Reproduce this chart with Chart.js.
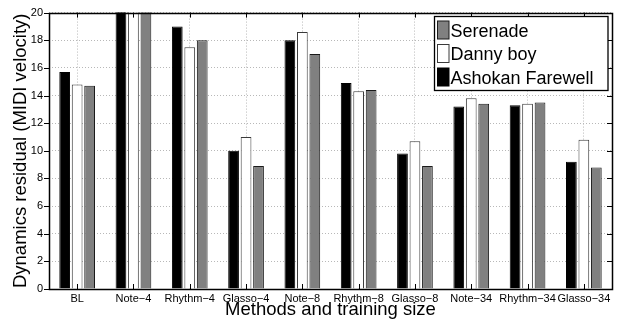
<!DOCTYPE html>
<html>
<head>
<meta charset="utf-8">
<script src="https://cdn.jsdelivr.net/npm/chart.js@4"></script>
<style>
  body { margin: 0; background: #fff; }
  #wrap { width: 618px; height: 320px; }
</style>
</head>
<body>
<div id="wrap"><canvas id="chart" width="618" height="320"></canvas></div>
<script>
// values (Note-4 bars run past the top of the axis)
const categories = ['BL', 'Note\u22124', 'Rhythm\u22124', 'Glasso\u22124', 'Note\u22128', 'Rhythm\u22128', 'Glasso\u22128', 'Note\u221234', 'Rhythm\u221234', 'Glasso\u221234'];
const ashokan = [15.7, 21, 19.0, 10.0, 18.0, 14.9, 9.8, 13.2, 13.3, 9.2];
const danny = [14.8, 21, 17.5, 11.0, 18.6, 14.3, 10.7, 13.8, 13.4, 10.8];
const serenade = [14.7, 21, 18.0, 8.9, 17.0, 14.4, 8.9, 13.4, 13.5, 8.8];
const yTicks = [0, 2, 4, 6, 8, 10, 12, 14, 16, 18, 20];

const FONT = "'Liberation Sans', Arial, Helvetica, sans-serif";
Chart.defaults.font.family = FONT;
Chart.defaults.color = '#000';

// box, inward ticks and the legend drawn on top like the matlab axes
const axesBox = {
  id: 'axesBox',
  afterDraw(chart) {
    const { ctx, chartArea: a, scales } = chart;
    ctx.save();
    ctx.strokeStyle = '#000';
    ctx.lineWidth = 1;
    ctx.beginPath();
    scales.x.ticks.forEach((t, i) => {
      const x = Math.round(scales.x.getPixelForTick(i)) + 0.5;
      ctx.moveTo(x, a.top); ctx.lineTo(x, a.top + 5);
      ctx.moveTo(x, a.bottom); ctx.lineTo(x, a.bottom - 5);
    });
    yTicks.forEach(v => {
      const y = Math.round(scales.y.getPixelForValue(v)) + 0.5;
      ctx.moveTo(a.left - 5, y); ctx.lineTo(a.left, y);
      ctx.moveTo(a.right, y); ctx.lineTo(a.right - 5, y);
    });
    ctx.stroke();
    ctx.lineWidth = 1.5;
    ctx.strokeRect(Math.round(a.left) + 0.5, Math.round(a.top) + 0.5, Math.round(a.right - a.left), Math.round(a.bottom - a.top));

    // legend, listed last dataset first
    const lx = 434.5, ly = 16.5, lw = 173.5, lh = 74;
    ctx.fillStyle = '#fff';
    ctx.fillRect(lx, ly, lw, lh);
    ctx.lineWidth = 1.3;
    ctx.strokeRect(lx, ly, lw, lh);
    ctx.font = '18px ' + FONT;
    ctx.textBaseline = 'alphabetic';
    const sets = chart.data.datasets.slice().reverse();
    sets.forEach((ds, i) => {
      const top = 21 + i * 23.5;
      ctx.fillStyle = ds.backgroundColor;
      ctx.fillRect(437.5, top, 11.5, 18);
      ctx.strokeStyle = ds.borderColor;
      ctx.lineWidth = 1;
      ctx.strokeRect(437.5, top, 11.5, 18);
      ctx.fillStyle = '#000';
      ctx.fillText(ds.label, 450.5, top + 15.7);
    });
    ctx.restore();
  }
};

new Chart(document.getElementById('chart'), {
  type: 'bar',
  data: {
    labels: categories,
    datasets: [
      { label: 'Ashokan Farewell', data: ashokan, backgroundColor: '#000000', borderColor: '#000000', borderWidth: 1 },
      { label: 'Danny boy', data: danny, backgroundColor: '#ffffff', borderColor: '#3a3a3a', borderWidth: 1 },
      { label: 'Serenade', data: serenade, backgroundColor: '#808080', borderColor: '#1a1a1a', borderWidth: 1 }
    ]
  },
  options: {
    responsive: false,
    animation: false,
    events: [],
    categoryPercentage: 0.665,
    barPercentage: 0.86,
    layout: { padding: { top: 12, right: 6, left: 0, bottom: 0 } },
    plugins: {
      legend: { display: false },
      tooltip: { enabled: false }
    },
    scales: {
      x: {
        grid: { offset: false, color: '#b8b8b8', drawTicks: false },
        border: { display: false, dash: [1, 2] },
        ticks: { font: { size: 11 }, padding: 3, maxRotation: 0, autoSkip: false },
        title: {
          display: true,
          text: 'Methods and training size',
          font: { size: 18.5, lineHeight: 1 },
          padding: { top: 0, bottom: 1 }
        },
        afterFit(s) { s.height = 31; }
      },
      y: {
        min: 0,
        max: 20,
        afterBuildTicks(s) { s.ticks = yTicks.map(v => ({ value: v })); },
        grid: { color: '#b8b8b8', drawTicks: false },
        border: { display: false, dash: [1, 2] },
        ticks: { font: { size: 11 }, padding: 6 },
        title: {
          display: true,
          text: 'Dynamics residual (MIDI velocity)',
          font: { size: 18.5, lineHeight: 1 },
          padding: { top: 12, bottom: 0 }
        },
        afterFit(s) { s.width = 49; }
      }
    }
  },
  plugins: [axesBox]
});
</script>
</body>
</html>
